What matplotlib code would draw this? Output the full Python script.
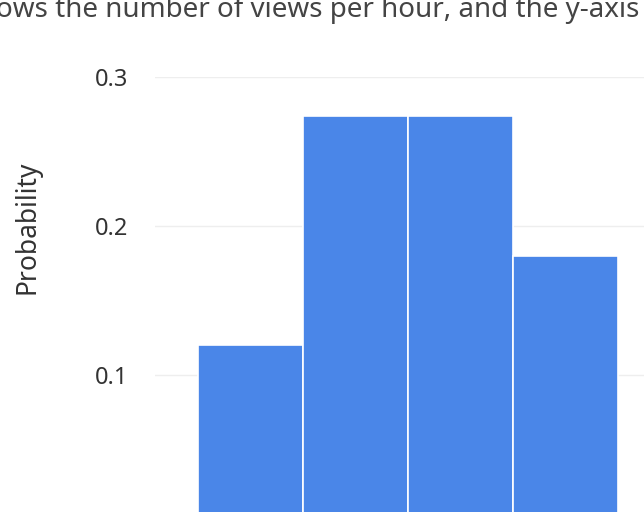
import matplotlib
matplotlib.use('Agg')
import matplotlib.pyplot as plt

# data
bin_left = [1, 2, 3, 4]
probability = [0.120, 0.274, 0.274, 0.180]
y_ticks = [0, 0.1, 0.2, 0.3]
y_tick_labels = ['0', '0.1', '0.2', '0.3']
caption = 'ows the number of views per hour, and the y-axis'

plt.rcParams['font.family'] = ['Noto Sans', 'DejaVu Sans']

W, H = 644, 512
fig = plt.figure(figsize=(W / 100, H / 100), dpi=100)

# axes placed in pixel terms, partly outside the figure (the picture is a crop)
left_px, right_px = 155, 720
bottom_px, top_px = -12, 435
ax = fig.add_axes([left_px / W, bottom_px / H,
                   (right_px - left_px) / W, (top_px - bottom_px) / H])

ax.bar(bin_left, probability, width=1.0, align='edge',
       color='#4a86e8', edgecolor='white', linewidth=1.2, zorder=2)

unit = 105.0  # px per bin
x0 = 1 - (198 - left_px) / unit
ax.set_xlim(x0, x0 + (right_px - left_px) / unit)
ax.set_ylim(0, 0.3)

ax.set_yticks(y_ticks)
ax.set_yticklabels(y_tick_labels)
ax.tick_params(axis='y', length=0, pad=19, labelsize=17, labelcolor='#333333')
ax.set_xticks([])
ax.grid(axis='y', color='#eeeeee', linewidth=1, zorder=0)
for s in ax.spines.values():
    s.set_visible(False)

fig.text(27 / W, 1 - 227 / H, 'Probability', rotation=90, ha='center',
         va='center', fontsize=19, color='#333333')

fig.text(-4 / W, 1 - 17 / H, caption, ha='left', va='baseline',
         fontsize=20.0, color='#444444')

fig.savefig('out.png', dpi=100)
